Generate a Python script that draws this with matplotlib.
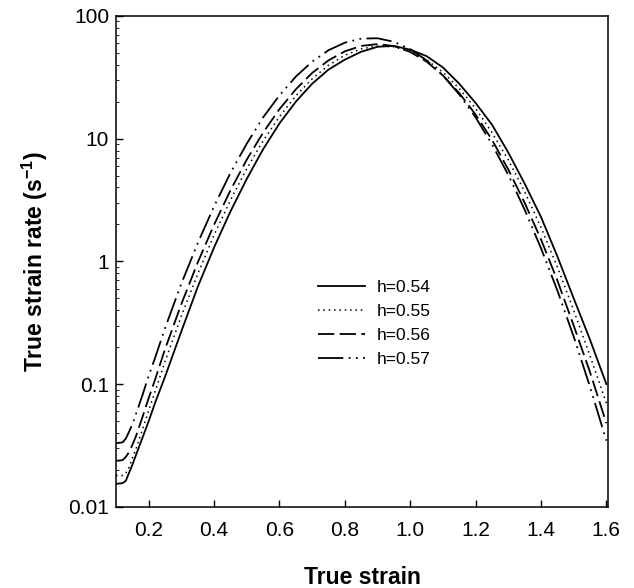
import matplotlib
matplotlib.use('Agg')
import matplotlib.pyplot as plt
from matplotlib.ticker import FixedLocator, LogLocator, NullFormatter

plt.rcParams['font.family'] = ['Liberation Sans', 'DejaVu Sans']
plt.rcParams['mathtext.default'] = 'regular'

# true strain sample points
strain = [0.10, 0.12, 0.13, 0.14, 0.15, 0.16, 0.18, 0.20, 0.22, 0.25, 0.30, 0.35, 0.40, 0.45,
          0.50, 0.55, 0.60, 0.65, 0.70, 0.75, 0.80, 0.85, 0.90, 0.95, 1.00, 1.05,
          1.10, 1.15, 1.20, 1.25, 1.30, 1.35, 1.40, 1.45, 1.50, 1.55, 1.60]

rate_h054 = [0.0154, 0.0156, 0.0163, 0.019, 0.022, 0.026, 0.036, 0.050, 0.071, 0.115, 0.27, 0.62, 1.30, 2.55,
             4.7, 8.2, 13.3, 20, 28, 36.5, 44, 51, 56, 57, 53, 47,
             38, 28, 19.5, 13, 7.7, 4.3, 2.3, 1.1, 0.50, 0.23, 0.10]
rate_h055 = [0.018, 0.018, 0.0188, 0.021, 0.025, 0.029, 0.042, 0.061, 0.088, 0.153, 0.36, 0.79, 1.64, 3.15,
             5.7, 9.6, 15.1, 22.3, 30.7, 39.6, 47.8, 53.8, 56.9, 56, 51.4, 43.8,
             34.8, 25.6, 17.6, 11.2, 6.7, 3.7, 1.89, 0.90, 0.40, 0.17, 0.07]
rate_h056 = [0.0237, 0.024, 0.0255, 0.028, 0.032, 0.037, 0.053, 0.077, 0.110, 0.193, 0.45, 0.98, 1.99, 3.79,
             6.75, 11.2, 17.4, 25.2, 34.3, 43.4, 51.4, 56.9, 58.9, 56.8, 50.8, 42.4,
             32.7, 23.5, 15.7, 9.8, 5.6, 3.0, 1.51, 0.70, 0.30, 0.125, 0.048]
rate_h057 = [0.033, 0.0335, 0.036, 0.041, 0.047, 0.056, 0.080, 0.117, 0.165, 0.286, 0.66, 1.41, 2.81, 5.25,
             9.1, 14.9, 22.5, 32, 42.4, 52.5, 60.5, 65.3, 65.7, 61.5, 53.6, 43.4,
             32.7, 22.9, 14.9, 9.0, 5.06, 2.64, 1.28, 0.58, 0.244, 0.095, 0.0346]

labels = ['h=0.54', 'h=0.55', 'h=0.56', 'h=0.57']
x_ticks = [0.2, 0.4, 0.6, 0.8, 1.0, 1.2, 1.4, 1.6]
y_ticks = [0.01, 0.1, 1, 10, 100]
y_ticklabels = ['0.01', '0.1', '1', '10', '100']

fig = plt.figure(figsize=(6.34, 5.88), dpi=100)
ax = fig.add_axes([0.183, 0.138, 0.776, 0.835])

styles = [
    dict(linestyle='-', linewidth=1.3),
    dict(linestyle=(0, (1, 2.5)), linewidth=1.1),
    dict(linestyle=(0, (9, 3)), linewidth=1.3),
    dict(linestyle=(0, (14, 3, 1, 3, 1, 3)), linewidth=1.3),
]
for rates, lab, st in zip([rate_h054, rate_h055, rate_h056, rate_h057], labels, styles):
    ax.plot(strain, rates, color='black', label=lab, **st)

ax.set_yscale('log')
ax.set_xlim(0.1, 1.605)
ax.set_ylim(0.01, 100)
ax.xaxis.set_major_locator(FixedLocator(x_ticks))
ax.set_xticklabels([f'{t:.1f}' for t in x_ticks])
ax.yaxis.set_major_locator(FixedLocator(y_ticks))
ax.set_yticklabels(y_ticklabels)
ax.yaxis.set_minor_locator(LogLocator(base=10, subs=range(2, 10)))
ax.yaxis.set_minor_formatter(NullFormatter())

ax.tick_params(axis='both', which='major', direction='in', length=5, width=1,
               labelsize=15)
ax.tick_params(axis='x', which='major', pad=10)
ax.tick_params(axis='y', which='major', pad=5)
ax.tick_params(axis='y', which='minor', direction='in', length=2.5, width=0.6)
for sp in ax.spines.values():
    sp.set_linewidth(1.1)

ax.set_xlabel('True strain', fontsize=16.5, fontweight='bold', labelpad=19)
ax.set_ylabel(r'True strain rate (s$^{-1}$)', fontsize=16.5, fontweight='bold', labelpad=13)

ax.legend(loc='upper left', bbox_to_anchor=(0.41, 0.462), frameon=False,
          fontsize=12.5, handlelength=2.7, handletextpad=0.7, labelspacing=0.5,
          borderpad=0, borderaxespad=0)

fig.savefig('out.png', dpi=100)
